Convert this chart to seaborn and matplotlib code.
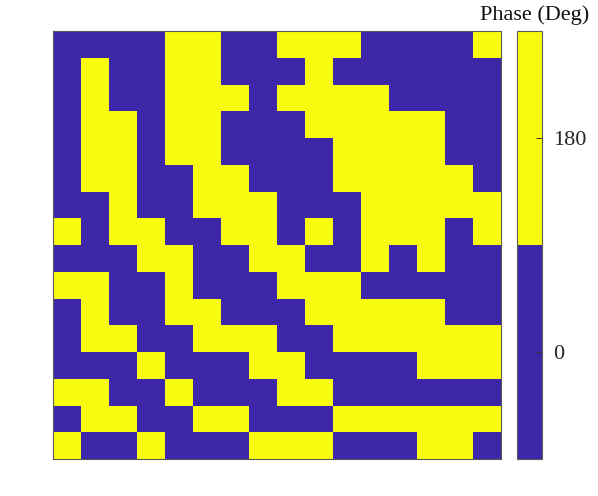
import numpy as np
import seaborn as sns
import matplotlib.pyplot as plt
from matplotlib.colors import ListedColormap

# phase of each cell in degrees (16 x 16, row 0 at the top)
phase_deg = [
    [0, 0, 0, 0, 180, 180, 0, 0, 180, 180, 180, 0, 0, 0, 0, 180],
    [0, 180, 0, 0, 180, 180, 0, 0, 0, 180, 0, 0, 0, 0, 0, 0],
    [0, 180, 0, 0, 180, 180, 180, 0, 180, 180, 180, 180, 0, 0, 0, 0],
    [0, 180, 180, 0, 180, 180, 0, 0, 0, 180, 180, 180, 180, 180, 0, 0],
    [0, 180, 180, 0, 180, 180, 0, 0, 0, 0, 180, 180, 180, 180, 0, 0],
    [0, 180, 180, 0, 0, 180, 180, 0, 0, 0, 180, 180, 180, 180, 180, 0],
    [0, 0, 180, 0, 0, 180, 180, 180, 0, 0, 0, 180, 180, 180, 180, 180],
    [180, 0, 180, 180, 0, 0, 180, 180, 0, 180, 0, 180, 180, 180, 0, 180],
    [0, 0, 0, 180, 180, 0, 0, 180, 180, 0, 0, 180, 0, 180, 0, 0],
    [180, 180, 0, 0, 180, 0, 0, 0, 180, 180, 180, 0, 0, 0, 0, 0],
    [0, 180, 0, 0, 180, 180, 0, 0, 0, 180, 180, 180, 180, 180, 0, 0],
    [0, 180, 180, 0, 0, 180, 180, 180, 0, 0, 180, 180, 180, 180, 180, 180],
    [0, 0, 0, 180, 0, 0, 0, 180, 180, 0, 0, 0, 0, 180, 180, 180],
    [180, 180, 0, 0, 180, 0, 0, 0, 180, 180, 0, 0, 0, 0, 0, 0],
    [0, 180, 180, 0, 0, 180, 180, 0, 0, 0, 180, 180, 180, 180, 180, 180],
    [180, 0, 0, 180, 0, 0, 0, 180, 180, 180, 0, 0, 0, 180, 180, 0],
]
cbar_ticks = [0, 180]
cbar_title = 'Phase (Deg)'

plt.rcParams['font.family'] = ['Liberation Serif', 'DejaVu Serif']

cmap = ListedColormap(['#3E26A8', '#F9FB0E'])
edge = '#5a5a5a'

fig = plt.figure(figsize=(5.98, 4.96), dpi=100)
ax = fig.add_axes([53 / 598, 37 / 496, 448 / 598, 428 / 496])
cax = fig.add_axes([517 / 598, 37 / 496, 25 / 598, 428 / 496])

sns.heatmap(np.array(phase_deg), ax=ax, cbar_ax=cax, cmap=cmap,
            vmin=-90, vmax=270, xticklabels=False, yticklabels=False,
            cbar_kws={'ticks': cbar_ticks})

for s in ax.spines.values():
    s.set_visible(True)
    s.set_color(edge)
    s.set_linewidth(0.8)
ax.tick_params(left=False, bottom=False)

cbar = ax.collections[0].colorbar
cbar.outline.set_visible(True)
cbar.outline.set_edgecolor(edge)
cbar.outline.set_linewidth(0.8)
cax.tick_params(direction='in', length=4, width=0.7, color='#333333',
                labelsize=16, labelcolor='#262626', pad=8)
cax.text(0.7, 1.015, cbar_title, transform=cax.transAxes, ha='center',
         va='bottom', fontsize=16, color='#111111')

fig.savefig('out.png', dpi=100)
